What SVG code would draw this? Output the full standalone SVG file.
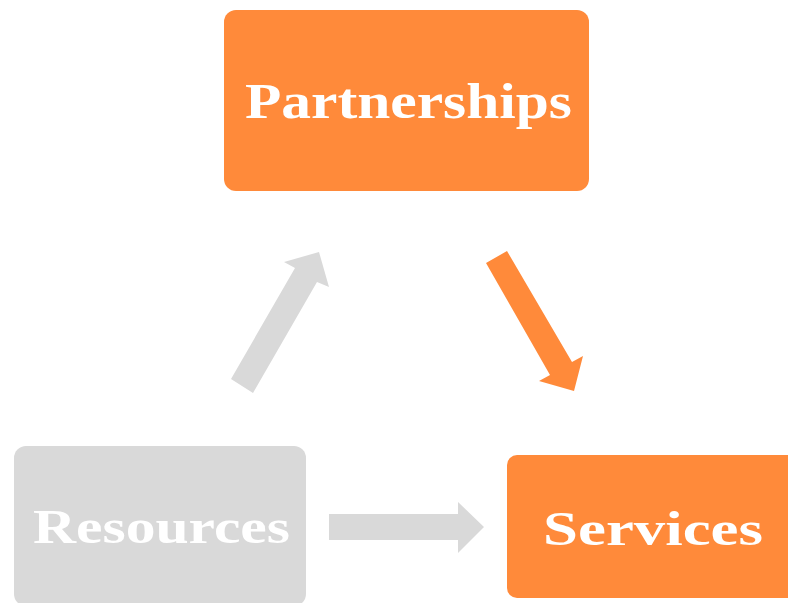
<svg xmlns="http://www.w3.org/2000/svg" width="788" height="603" viewBox="0 0 788 603">
<style>
.orange{fill:#FF8A3A}
.gray{fill:#D9D9D9}
.lbl{font-family:"Liberation Serif","Times New Roman",serif;font-weight:bold;font-size:48px;fill:#FFFFFF}
</style>
<rect width="788" height="603" fill="#FFFFFF"/>
<g id="connectors">
<polygon class="gray" points="231,379 253,393 317,282 329,287 319,252 284,262 295,268"/>
<polygon class="orange" points="486,263 507,251 572,362 583,356 574,391 539,381 550,375"/>
<polygon class="gray" points="329,514 458,514 458,502 484,527 458,553 458,540 329,540"/>
</g>
<g id="partnerships">
<rect class="orange" x="224" y="10" width="365" height="181" rx="12"/>
<text class="lbl" x="245" y="118" font-size="50" textLength="327" lengthAdjust="spacingAndGlyphs" style="font-size:50px">Partnerships</text>
</g>
<g id="resources">
<rect class="gray" x="14" y="446" width="292" height="160" rx="12"/>
<text class="lbl" x="33" y="543" textLength="257" lengthAdjust="spacingAndGlyphs">Resources</text>
</g>
<g id="services">
<rect class="orange" x="507" y="455" width="300" height="143" rx="10"/>
<text class="lbl" x="543" y="545" textLength="220" lengthAdjust="spacingAndGlyphs">Services</text>
</g>
</svg>
